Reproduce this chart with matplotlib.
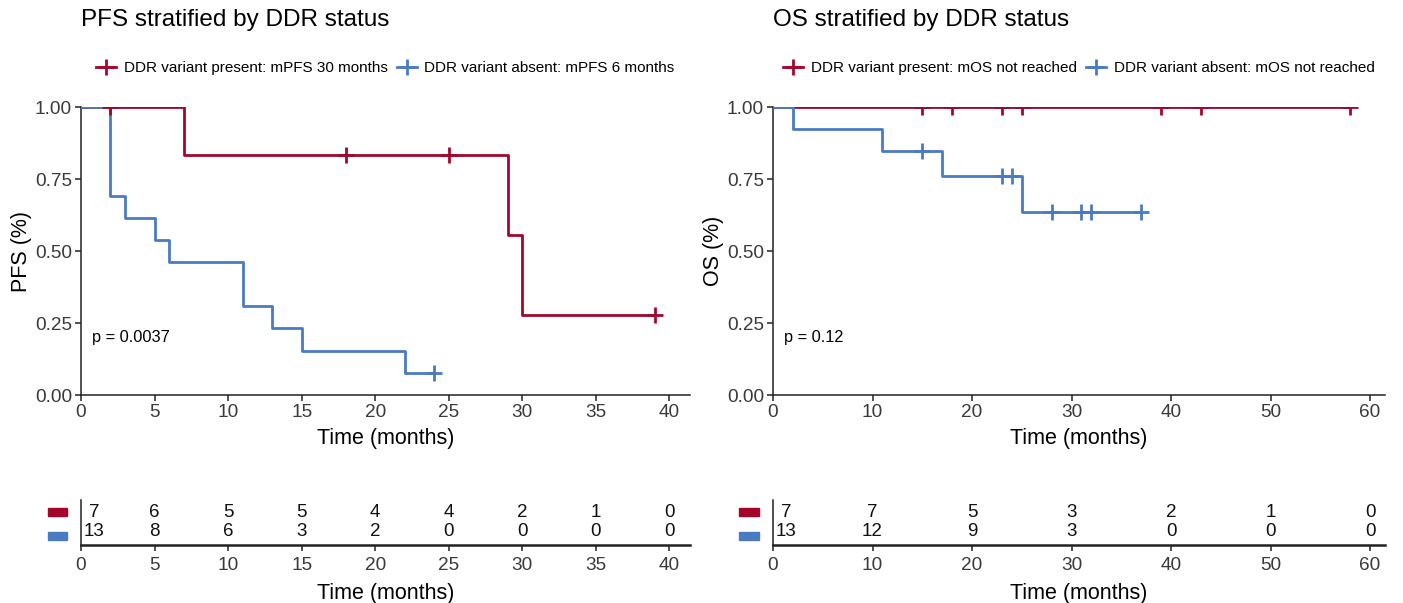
import matplotlib
matplotlib.use("Agg")
import matplotlib.pyplot as plt
import matplotlib.transforms as mtransforms
from matplotlib.lines import Line2D

plt.rcParams["font.family"] = ["Liberation Sans", "DejaVu Sans"]

RED = "#A4062B"
BLUE = "#4A7BC2"
TICK_GREY = "#3A3A3A"

# ---- PFS (steps) ----
pfs_present_t = [0, 7, 29, 30, 39]
pfs_present_s = [1.0, 0.833, 0.556, 0.278, 0.278]
pfs_present_cens_t = [2, 18, 25, 39]
pfs_present_cens_s = [1.0, 0.833, 0.833, 0.278]

pfs_absent_t = [0, 2, 3, 5, 6, 11, 13, 15, 22, 24]
pfs_absent_s = [1.0, 0.692, 0.615, 0.538, 0.462, 0.308, 0.231, 0.154, 0.077, 0.077]
pfs_absent_cens_t = [24]
pfs_absent_cens_s = [0.077]

# ---- OS ----
os_present_t = [0, 58]
os_present_s = [1.0, 1.0]
os_present_cens_t = [15, 18, 23, 25, 39, 43, 58]
os_present_cens_s = [1.0, 1.0, 1.0, 1.0, 1.0, 1.0, 1.0]

os_absent_t = [0, 2, 11, 17, 25, 37]
os_absent_s = [1.0, 0.923, 0.846, 0.762, 0.635, 0.635]
os_absent_cens_t = [15, 23, 24, 28, 31, 32, 37]
os_absent_cens_s = [0.846, 0.762, 0.762, 0.635, 0.635, 0.635, 0.635]

# ---- numbers at risk ----
pfs_risk_times = [0, 5, 10, 15, 20, 25, 30, 35, 40]
pfs_risk_present = [7, 6, 5, 5, 4, 4, 2, 1, 0]
pfs_risk_absent = [13, 8, 6, 3, 2, 0, 0, 0, 0]

os_risk_times = [0, 10, 20, 30, 40, 50, 60]
os_risk_present = [7, 7, 5, 3, 2, 1, 0]
os_risk_absent = [13, 12, 9, 3, 0, 0, 0]

W, H = 1403, 603


def _box(x0, y0, x1, y1):
    # pixel box (top-left origin) -> figure fraction rect
    return [x0 / W, 1 - y1 / H, (x1 - x0) / W, (y1 - y0) / H]


def _style(ax):
    ax.spines[["top", "right"]].set_visible(False)
    for s in ("left", "bottom"):
        ax.spines[s].set_color("#222222")
        ax.spines[s].set_linewidth(1.1)
    ax.tick_params(colors="#222222", labelcolor=TICK_GREY, labelsize=13.7, length=4, width=1.1, pad=2.5)


def _panel(fig, x0, x1, xmax, xticks, title, ylabel, leg_labels, curves, pval, risk):
    ax = fig.add_axes(_box(x0, 107, x1, 395))
    for t, s, ct, cs, col in curves:
        ax.step(t, s, where="post", color=col, lw=2.0, zorder=3)
        ax.plot(ct, cs, ls="none", marker="+", ms=11, mew=2.0, color=col, zorder=4)
    ax.set_xlim(0, xmax)
    ax.set_ylim(0, 1)
    ax.set_xticks(xticks)
    ax.set_yticks([0, 0.25, 0.5, 0.75, 1.0])
    ax.set_yticklabels(["0.00", "0.25", "0.50", "0.75", "1.00"])
    ax.set_xlabel("Time (months)", fontsize=15.5, labelpad=5)
    ax.set_ylabel(ylabel, fontsize=15.5, labelpad=2)
    _style(ax)
    ax.text(0.018, 0.198, pval, transform=ax.transAxes, ha="left", va="center", fontsize=11.8)
    ax.set_title(title, loc="left", fontsize=17.5, pad=0, x=0, y=1.0 + (107 - 20) / 288, va="center")

    handles = [Line2D([0], [0], color=c[4], lw=2.0, marker="+", ms=11, mew=2.0) for c in curves]
    ax.legend(handles, leg_labels, loc="center", bbox_to_anchor=(0.5, 1 + (107 - 68) / 288),
              ncol=2, frameon=False, fontsize=11, handlelength=1.3, handletextpad=0.5,
              columnspacing=0.6, borderaxespad=0)

    # risk table
    times, rp, ra = risk
    rax = fig.add_axes(_box(x0, 500, x1, 545))
    rax.set_xlim(0, xmax)
    rax.set_ylim(0, 1)
    rax.set_xticks(xticks)
    rax.set_yticks([])
    rax.set_xlabel("Time (months)", fontsize=15.5, labelpad=6)
    _style(rax)
    rax.tick_params(axis="x", pad=5)
    rax.spines["bottom"].set_linewidth(1.8)
    off = mtransforms.offset_copy(rax.transData, fig=fig, x=13, y=0, units="dots")
    for i, (tm, a, b) in enumerate(zip(times, rp, ra)):
        tr = off if i == 0 else rax.transData
        rax.text(tm, 0.733, str(a), transform=tr, ha="center", va="center", fontsize=13.5, color="#111111")
        rax.text(tm, 0.30, str(b), transform=tr, ha="center", va="center", fontsize=13.5, color="#111111")
    bt = mtransforms.blended_transform_factory(rax.transAxes, rax.transAxes)
    for yy, col in ((0.733, RED), (0.2, BLUE)):
        rax.add_patch(plt.Rectangle((-0.055, yy - 0.09), 0.032, 0.18, transform=bt,
                                    color=col, clip_on=False))
    return ax


fig = plt.figure(figsize=(W / 100, H / 100), dpi=100)

_panel(fig, 81, 690, 41.4, [0, 5, 10, 15, 20, 25, 30, 35, 40],
       "PFS stratified by DDR status", "PFS (%)",
       ["DDR variant present: mPFS 30 months", "DDR variant absent: mPFS 6 months"],
       [(pfs_present_t, pfs_present_s, pfs_present_cens_t, pfs_present_cens_s, RED),
        (pfs_absent_t, pfs_absent_s, pfs_absent_cens_t, pfs_absent_cens_s, BLUE)],
       "p = 0.0037", (pfs_risk_times, pfs_risk_present, pfs_risk_absent))

_panel(fig, 773, 1385, 61.5, [0, 10, 20, 30, 40, 50, 60],
       "OS stratified by DDR status", "OS (%)",
       ["DDR variant present: mOS not reached", "DDR variant absent: mOS not reached"],
       [(os_present_t, os_present_s, os_present_cens_t, os_present_cens_s, RED),
        (os_absent_t, os_absent_s, os_absent_cens_t, os_absent_cens_s, BLUE)],
       "p = 0.12", (os_risk_times, os_risk_present, os_risk_absent))

fig.savefig("out.png", dpi=100)
